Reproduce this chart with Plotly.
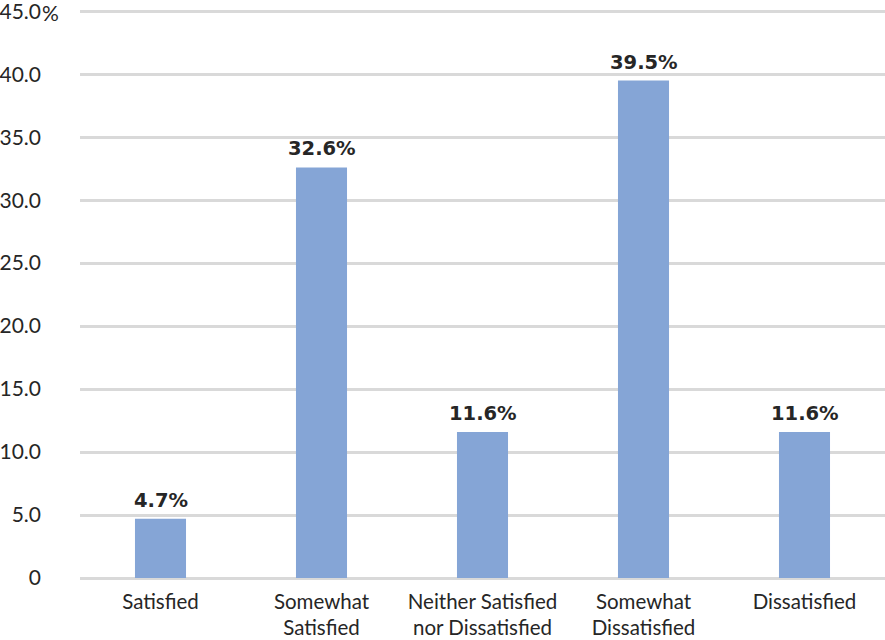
import plotly.graph_objects as go

categories = ["Satisfied", "Somewhat<br>Satisfied", "Neither Satisfied<br>nor Dissatisfied",
              "Somewhat<br>Dissatisfied", "Dissatisfied"]
values = [4.7, 32.6, 11.6, 39.5, 11.6]
y_ticks = [0, 5, 10, 15, 20, 25, 30, 35, 40, 45]
y_ticktext = ["0", "5.0", "10.0", "15.0", "20.0", "25.0", "30.0", "35.0", "40.0", "45.0"]

FONT = "Lato"
LABEL_FONT = "DejaVu Sans"
BAR = "#85A5D6"
GRID = "#D9D9D9"
TEXT = "#262626"

fig = go.Figure(go.Bar(
    x=categories, y=values, marker_color=BAR, marker_line_width=0,
    hoverinfo="skip",
))

# value labels above each bar
for c, v in zip(categories, values):
    fig.add_annotation(x=c, y=v, text=f"<b>{v:.1f}%</b>", showarrow=False,
                       yanchor="bottom", yshift=5,
                       font=dict(family=LABEL_FONT, size=19.5, color=TEXT))

# percent sign trailing the top tick value
fig.add_annotation(xref="paper", x=0, y=45, text="%", showarrow=False,
                   xanchor="left", xshift=-40, yshift=-1,
                   font=dict(family=FONT, size=21, color=TEXT))

fig.update_layout(
    width=885, height=640,
    margin=dict(l=80, r=0, t=10, b=62, autoexpand=False),
    paper_bgcolor="white", plot_bgcolor="white",
    bargap=0.683, showlegend=False,
    font=dict(family=FONT, size=21, color=TEXT),
    xaxis=dict(showgrid=False, showline=False, ticks="", ticklabelstandoff=9,
               automargin=False,
               tickfont=dict(family=FONT, size=20.5, color=TEXT)),
    yaxis=dict(range=[0, 45.1], tickvals=y_ticks, ticktext=y_ticktext,
               showgrid=True, gridcolor=GRID, gridwidth=2.5,
               zeroline=True, zerolinecolor=GRID, zerolinewidth=2.5,
               showline=False, ticks="", ticklabelstandoff=38,
               ticklabeloverflow="allow", automargin=False,
               tickfont=dict(family=FONT, size=21, color=TEXT)),
)

fig.write_html("out.html")
